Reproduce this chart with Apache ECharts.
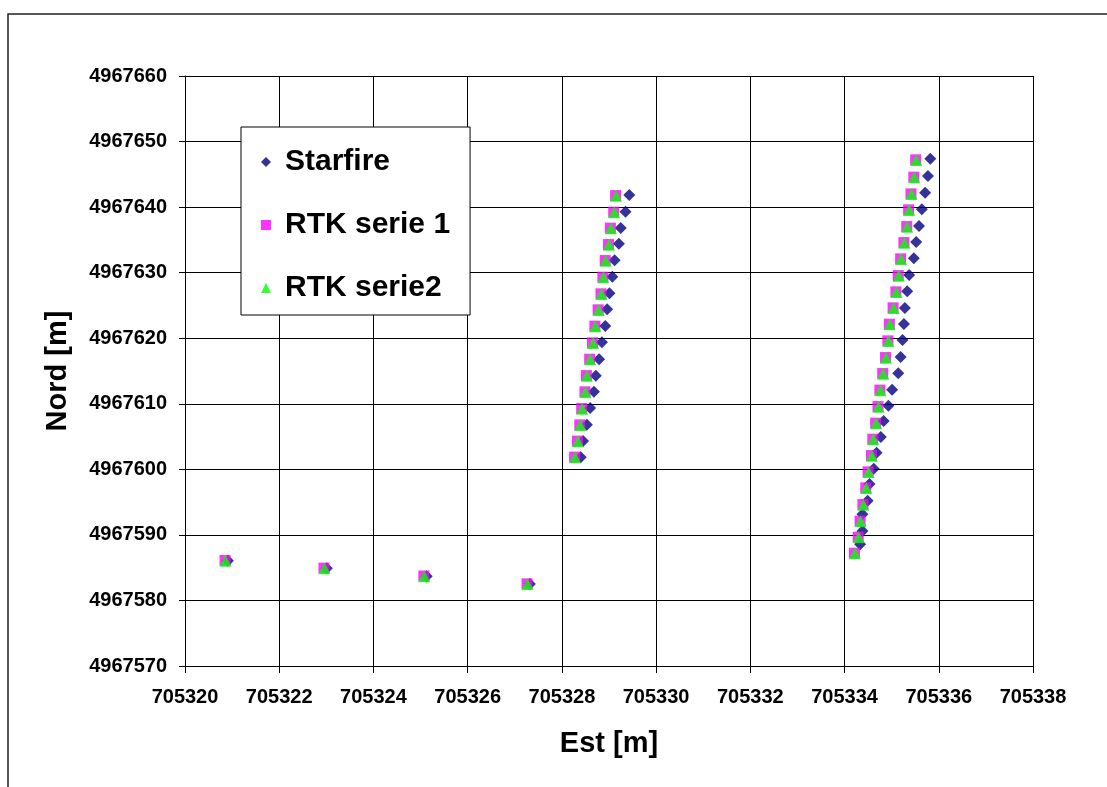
<!DOCTYPE html>
<html>
<head>
<meta charset="utf-8">
<script src="https://cdn.jsdelivr.net/npm/echarts@6/dist/echarts.min.js"></script>
<style>
html,body{margin:0;padding:0;background:#fff;}
#c{width:1107px;height:787px;}
</style>
</head>
<body>
<div id="c"></div>
<script>
// Tick labels (axis ranges)
const xTicks = [705320, 705322, 705324, 705326, 705328, 705330, 705332, 705334, 705336, 705338];
const yTicks = [4967570, 4967580, 4967590, 4967600, 4967610, 4967620, 4967630, 4967640, 4967650, 4967660];

const seriesNames = ['Starfire', 'RTK serie 1', 'RTK serie2'];

// Starfire
const starfireX = [
  705320.91, 705323.01, 705325.13, 705327.32,
  705329.43, 705329.35, 705329.25, 705329.21, 705329.12, 705329.07, 705329.01, 705328.96, 705328.92,
  705328.85, 705328.79, 705328.72, 705328.68, 705328.60, 705328.53, 705328.45, 705328.40,
  705335.82, 705335.77, 705335.71, 705335.64, 705335.58, 705335.52, 705335.47, 705335.37, 705335.33,
  705335.28, 705335.26, 705335.23, 705335.19, 705335.14, 705335.01, 705334.93, 705334.83, 705334.77,
  705334.68, 705334.62, 705334.53, 705334.49, 705334.38, 705334.38, 705334.33
];
const starfireY = [
  4967586.07, 4967584.90, 4967583.70, 4967582.50,
  4967641.85, 4967639.30, 4967636.81, 4967634.42, 4967631.89, 4967629.39, 4967626.85, 4967624.41, 4967621.86,
  4967619.38, 4967616.78, 4967614.28, 4967611.84, 4967609.36, 4967606.81, 4967604.32, 4967601.84,
  4967647.38, 4967644.75, 4967642.20, 4967639.67, 4967637.12, 4967634.68, 4967632.19, 4967629.64, 4967627.16,
  4967624.61, 4967622.17, 4967619.73, 4967617.14, 4967614.65, 4967612.15, 4967609.71, 4967607.37, 4967604.93,
  4967602.54, 4967600.10, 4967597.76, 4967595.22, 4967593.14, 4967590.59, 4967588.56
];

// RTK serie 1
const rtk1X = [
  705320.85, 705322.95, 705325.07, 705327.26,
  705329.14, 705329.10, 705329.03, 705328.99, 705328.92, 705328.87, 705328.83, 705328.77, 705328.70,
  705328.65, 705328.59, 705328.52, 705328.49, 705328.42, 705328.38, 705328.33, 705328.27,
  705335.51, 705335.47, 705335.41, 705335.36, 705335.32, 705335.26, 705335.19, 705335.14, 705335.09,
  705335.03, 705334.95, 705334.92, 705334.87, 705334.81, 705334.75, 705334.71, 705334.66, 705334.60,
  705334.57, 705334.50, 705334.45, 705334.39, 705334.33, 705334.29, 705334.21
];
const rtk1Y = [
  4967586.10, 4967584.93, 4967583.73, 4967582.53,
  4967641.76, 4967639.23, 4967636.79, 4967634.29, 4967631.85, 4967629.31, 4967626.77, 4967624.33, 4967621.84,
  4967619.29, 4967616.80, 4967614.30, 4967611.82, 4967609.27, 4967606.78, 4967604.30, 4967601.86,
  4967647.21, 4967644.57, 4967642.02, 4967639.58, 4967637.03, 4967634.59, 4967632.10, 4967629.56, 4967627.07,
  4967624.63, 4967622.14, 4967619.60, 4967617.05, 4967614.61, 4967612.08, 4967609.57, 4967607.04, 4967604.60,
  4967602.10, 4967599.61, 4967597.17, 4967594.63, 4967592.09, 4967589.65, 4967587.21
];

// RTK serie2
const rtk2X = [
  705320.86, 705322.96, 705325.08, 705327.27,
  705329.15, 705329.11, 705329.04, 705329.00, 705328.93, 705328.88, 705328.84, 705328.78, 705328.71,
  705328.66, 705328.60, 705328.53, 705328.50, 705328.43, 705328.39, 705328.34, 705328.28,
  705335.52, 705335.48, 705335.42, 705335.37, 705335.33, 705335.27, 705335.20, 705335.15, 705335.10,
  705335.04, 705334.96, 705334.93, 705334.88, 705334.82, 705334.76, 705334.72, 705334.67, 705334.61,
  705334.58, 705334.51, 705334.46, 705334.40, 705334.34, 705334.30, 705334.22
];
const rtk2Y = [
  4967586.07, 4967584.90, 4967583.70, 4967582.50,
  4967641.74, 4967639.21, 4967636.77, 4967634.27, 4967631.83, 4967629.29, 4967626.75, 4967624.31, 4967621.82,
  4967619.27, 4967616.78, 4967614.28, 4967611.80, 4967609.25, 4967606.76, 4967604.28, 4967601.84,
  4967647.19, 4967644.55, 4967642.00, 4967639.56, 4967637.01, 4967634.57, 4967632.08, 4967629.54, 4967627.05,
  4967624.61, 4967622.12, 4967619.58, 4967617.03, 4967614.59, 4967612.06, 4967609.55, 4967607.02, 4967604.58,
  4967602.08, 4967599.59, 4967597.15, 4967594.61, 4967592.07, 4967589.63, 4967587.19
];

const zip = (xs, ys) => xs.map((x, i) => [x, ys[i]]);
const FONT = '"Liberation Sans", Arial, sans-serif';

const chart = echarts.init(document.getElementById('c'), null, {renderer: 'canvas'});
chart.setOption({
  backgroundColor: '#ffffff',
  animation: false,
  graphic: [{
    type: 'rect',
    shape: {x: 8, y: 14, width: 1300, height: 1000},
    style: {fill: 'none', stroke: '#222', lineWidth: 1.5},
    silent: true, z: -10
  }],
  grid: {left: 185, top: 76, right: 74, bottom: 121, containLabel: false},
  legend: {
    orient: 'vertical',
    left: 241, top: 127,
    backgroundColor: '#ffffff',
    borderColor: '#000', borderWidth: 1,
    padding: [20, 20, 12, 20],
    itemGap: 33,
    itemWidth: 10, itemHeight: 10,
    selectedMode: false,
    textStyle: {fontFamily: FONT, fontSize: 30, fontWeight: 'bold', color: '#000', lineHeight: 30, padding: [0, 0, 0, 9]},
    data: [
      {name: seriesNames[0], icon: 'diamond'},
      {name: seriesNames[1], icon: 'rect'},
      {name: seriesNames[2], icon: 'triangle'}
    ]
  },
  xAxis: {
    type: 'value',
    min: xTicks[0], max: xTicks[xTicks.length - 1], interval: 2,
    name: 'Est [m]', nameLocation: 'middle', nameGap: 63,
    nameTextStyle: {fontFamily: FONT, fontSize: 29, fontWeight: 'bold', color: '#000'},
    axisLine: {show: true, lineStyle: {color: '#000', width: 1}},
    axisTick: {show: true, inside: false, length: 7, lineStyle: {color: '#000'}},
    axisLabel: {fontFamily: FONT, fontSize: 20, fontWeight: 'bold', color: '#000', margin: 21, formatter: v => String(v)},
    splitLine: {show: true, lineStyle: {color: '#000', width: 1}}
  },
  yAxis: {
    type: 'value',
    min: yTicks[0], max: yTicks[yTicks.length - 1], interval: 10,
    name: 'Nord [m]', nameLocation: 'middle', nameGap: 113, nameRotate: 90,
    nameTextStyle: {fontFamily: FONT, fontSize: 29, fontWeight: 'bold', color: '#000'},
    axisLine: {show: true, lineStyle: {color: '#000', width: 1}},
    axisTick: {show: true, inside: false, length: 6, lineStyle: {color: '#000'}},
    axisLabel: {fontFamily: FONT, fontSize: 20, fontWeight: 'bold', color: '#000', margin: 18, formatter: v => String(v)},
    splitLine: {show: true, lineStyle: {color: '#000', width: 1}}
  },
  series: [
    {name: seriesNames[0], type: 'scatter', symbol: 'diamond', symbolSize: 12,
     itemStyle: {color: '#000080'}, data: zip(starfireX, starfireY)},
    {name: seriesNames[1], type: 'scatter', symbol: 'rect', symbolSize: 11,
     itemStyle: {color: '#ff00ff'}, data: zip(rtk1X, rtk1Y)},
    {name: seriesNames[2], type: 'scatter', symbol: 'triangle', symbolSize: 12,
     itemStyle: {color: '#00ff00'}, data: zip(rtk2X, rtk2Y)}
  ]
});
</script>
</body>
</html>
